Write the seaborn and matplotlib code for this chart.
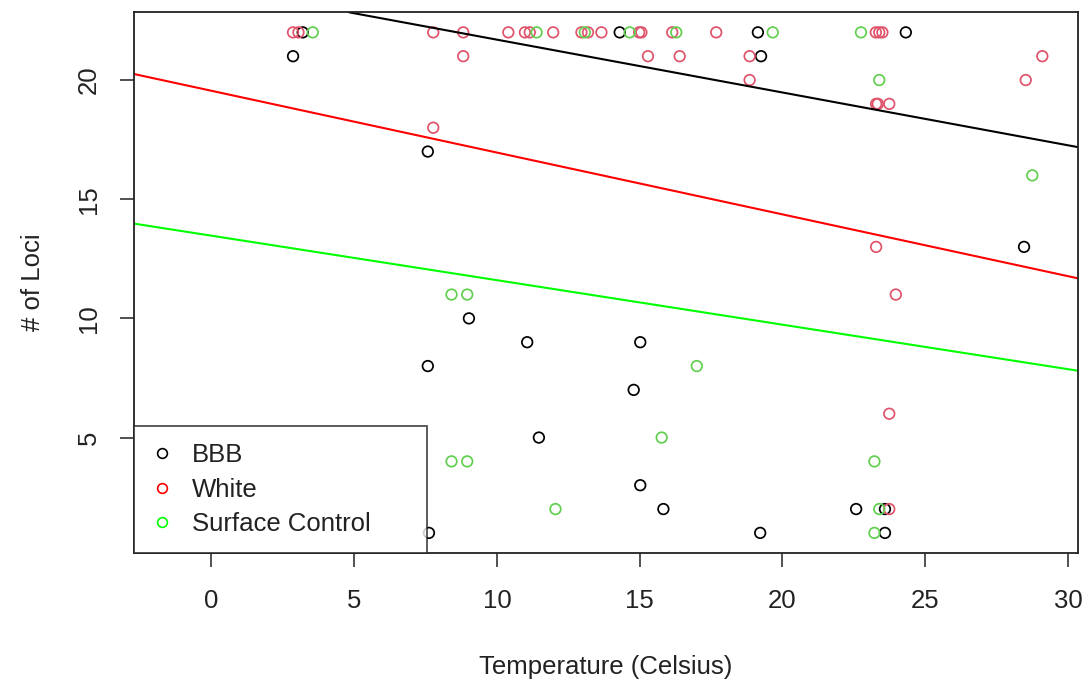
import numpy as np
import pandas as pd
import matplotlib
matplotlib.use("Agg")
from matplotlib import pyplot as plt
from matplotlib.lines import Line2D
import seaborn as sns

# values
bbb_temp = [3.2, 2.86, 7.58, 14.3, 19.14, 19.25, 24.32, 28.46, 9.02, 7.58,
            11.06, 15.02, 14.79, 11.47, 15.02, 15.83, 22.58, 23.59, 19.22,
            23.59, 7.62]
bbb_loci = [22, 21, 17, 22, 22, 21, 22, 13, 10, 8,
            9, 9, 7, 5, 3, 2, 2, 2, 1,
            1, 1]

white_temp = [2.86, 3.05, 7.77, 7.77, 8.82, 8.82, 10.4, 10.98, 11.15, 11.97,
              12.96, 13.19, 13.66, 14.98, 15.06, 16.14, 17.68, 15.29, 16.4,
              18.85, 18.85, 23.27, 23.39, 23.5, 29.1, 28.52, 23.28, 23.34,
              23.74, 23.28, 23.97, 23.74, 23.74]
white_loci = [22, 22, 22, 18, 22, 21, 22, 22, 22, 22,
              22, 22, 22, 22, 22, 22, 22, 21, 21,
              21, 20, 22, 22, 22, 21, 20, 19, 19,
              19, 13, 11, 6, 2]

surf_temp = [3.55, 11.39, 13.08, 14.65, 16.28, 19.66, 22.75, 23.39, 28.75,
             8.41, 8.96, 17.0, 15.77, 8.41, 8.96, 23.22, 12.05, 23.39, 23.22]
surf_loci = [22, 22, 22, 22, 22, 22, 22, 20, 16,
             11, 11, 8, 5, 4, 4, 4, 2, 2, 1]

groups = ['BBB', 'White', 'Surface Control']
point_colors = ['black', '#DF536B', '#61D04F']
line_colors = ['black', '#FF0000', '#00FF00']
intercepts = [23.91, 19.55, 13.47]
slopes = [-0.2216, -0.2593, -0.1867]

df = pd.DataFrame({
    'temp': bbb_temp + white_temp + surf_temp,
    'loci': bbb_loci + white_loci + surf_loci,
    'site': ['BBB'] * len(bbb_temp) + ['White'] * len(white_temp)
            + ['Surface Control'] * len(surf_temp),
})

sns.set_style('white')
plt.rcParams['font.family'] = ['Liberation Sans', 'DejaVu Sans']

fig = plt.figure(figsize=(10.89, 6.86), dpi=100)
ax = fig.add_axes([0.1233, 0.194, 0.8666, 0.788])

ax = sns.scatterplot(x='temp', y='loci', hue='site', hue_order=groups,
                     palette=point_colors, data=df, ax=ax, s=58,
                     legend=False)
pts = ax.collections[0]
pts.set_edgecolors(pts.get_facecolors())
pts.set_facecolors('none')
pts.set_linewidths(1.25)

for b, m, c in zip(intercepts, slopes, line_colors):
    ax.axline((0, b), slope=m, color=c, lw=1.5)

ax.set_xlim(-2.70, 30.35)
ax.set_ylim(0.16, 22.84)
ax.set_xticks([0, 5, 10, 15, 20, 25, 30])
ax.set_yticks([5, 10, 15, 20])
for sp in ax.spines.values():
    sp.set_visible(True)
    sp.set_color('#222222')
    sp.set_linewidth(1.3)
ax.tick_params(axis='both', direction='out', length=10, width=1.1,
               bottom=True, left=True, color='#222222', labelsize=18.5,
               labelcolor='#222222')
ax.tick_params(axis='x', pad=16)
ax.tick_params(axis='y', pad=14, labelrotation=90)
for lab in ax.get_yticklabels():
    lab.set_va('center')
ax.set_xlabel('Temperature (Celsius)', fontsize=18.5, labelpad=30,
              color='#222222')
ax.set_ylabel('# of Loci', fontsize=18.5, labelpad=23, color='#222222')

handles = [Line2D([], [], ls='none', marker='o', markerfacecolor='none',
                  markeredgecolor=c, markersize=7, markeredgewidth=1.2)
           for c in line_colors]
leg = ax.legend(handles, groups, loc='lower left',
                bbox_to_anchor=(0, 0, 0.3105, 0.3), mode='expand',
                borderaxespad=0, fontsize=18.5, frameon=True, fancybox=False,
                handlelength=0.8, handletextpad=0.78, labelspacing=0.4,
                borderpad=0.66)
leg.get_frame().set_edgecolor('#222222')
leg.get_frame().set_linewidth(1.3)
for t in leg.get_texts():
    t.set_color('#222222')

fig.savefig('out.png', dpi=100)
